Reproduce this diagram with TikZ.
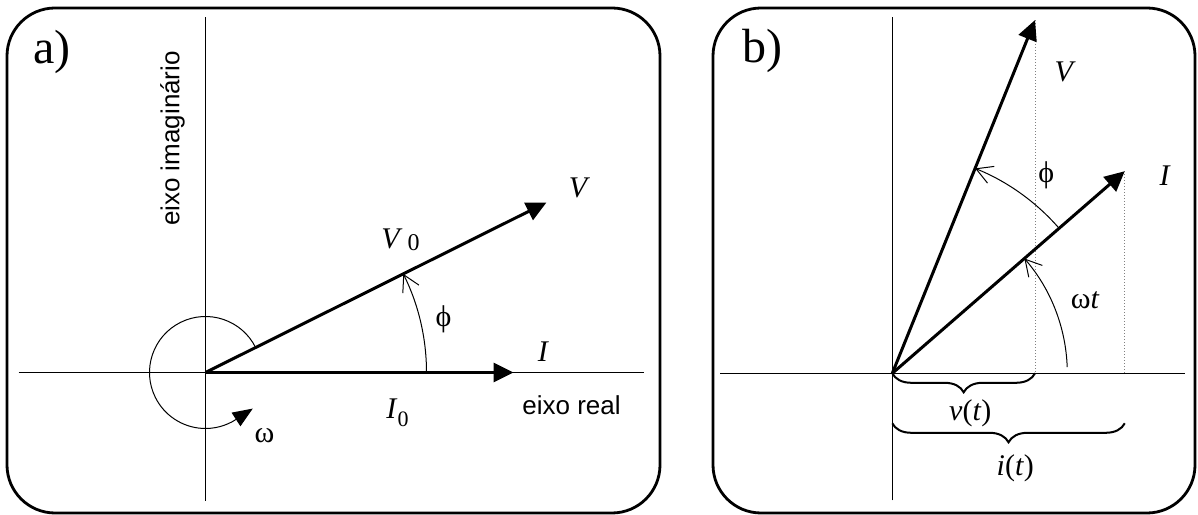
\documentclass[tikz,border=0pt]{standalone}
\usepackage{fontspec}
\setmainfont{Liberation Serif}
\newfontfamily\axisfont{Liberation Sans}
\usetikzlibrary{arrows.meta,decorations.pathreplacing,calc}

\begin{document}
\begin{tikzpicture}[
        x=0.5pt, y=0.5pt,
        every node/.style={font=\fontsize{15}{18}\selectfont, inner sep=0pt},
        panel/.style={draw, line width=1.4pt, rounded corners=24pt},
        axis/.style={draw, line width=0.5pt},
        phasor/.style={draw, line width=1.5pt, -{Triangle[length=10pt,width=9.5pt]}},
        anglearc/.style={draw, line width=0.5pt, -{Straight Barb[length=8pt,width=9pt]}},
        spin/.style={draw, line width=0.5pt, -{Triangle[length=10pt,width=8pt]}},
        proj/.style={draw=gray, line width=0.5pt, densely dotted},
        brace/.style={decorate, decoration={brace, mirror, amplitude=9.5pt}, line width=1pt},
        axislabel/.style={font=\axisfont\fontsize{13}{15}\selectfont},
        panellabel/.style={font=\fontsize{24}{28}\selectfont}
    ]
    \useasboundingbox (0,0) rectangle (1198,514);

    % Panel a
    \draw[panel] (7,1) rectangle (660,506);
    \node[panellabel] (lbla) at (52,462) {a)};
    \begin{scope}[shift={(205.5,141.5)}]
        \coordinate (Oa) at (0,0);
        \coordinate (xa1) at (-187,0);
        \coordinate (xa2) at (438,0);
        \coordinate (ya1) at (0,-128);
        \coordinate (ya2) at (0,355);
        \coordinate (Va) at (26.5:381);
        \coordinate (Ia) at (308,0);

        \draw[axis] (xa1) -- (xa2);
        \draw[axis] (ya1) -- (ya2);
        \draw[phasor] (Oa) -- (Va);
        \draw[phasor] (Oa) -- (Ia);
        \draw[anglearc] (0:221) arc[start angle=0, end angle=26.5, radius=221];
        \draw[spin] (26.5:56) arc[start angle=26.5, end angle=303, radius=56] -- ++(33:20);

        \node (Vlab) at (374,185) {\textit{V}};
        \node (V0lab) at (195,133) {\textit{V}\,\raisebox{-1pt}{\fontsize{12}{14}\selectfont 0}};
        \node (phia) at (238,53) {ϕ};
        \node (Ilab) at (338,21) {\textit{I}};
        \node (I0lab) at (192,-40) {\textit{I}\raisebox{-4pt}{\fontsize{11}{13}\selectfont 0}};
        \node[axislabel] (real) at (366,-33) {eixo real};
        \node[axislabel, rotate=90] (imag) at (-33,234) {eixo imaginário};
        \node (omega) at (59,-63) {ω};
    \end{scope}

    % Panel b
    \draw[panel] (713,1) rectangle (1195,506);
    \node[panellabel] (lblb) at (762,463) {b)};
    \begin{scope}[shift={(892.3,140.7)}]
        \coordinate (Ob) at (0,0);
        \coordinate (xb1) at (-172,0);
        \coordinate (xb2) at (293,0);
        \coordinate (yb1) at (0,-127);
        \coordinate (yb2) at (0,356);
        \coordinate (Vb) at (68:381);
        \coordinate (Ib) at (41:308);
        \coordinate (Vx) at (Vb |- Ob);
        \coordinate (Ix) at (Ib |- Ob);
        \coordinate (ib1) at (0,-50);
        \coordinate (ib2) at (Ix |- ib1);

        \draw[axis] (xb1) -- (xb2);
        \draw[axis] (yb1) -- (yb2);
        \draw[proj] (Vb) -- (Vx);
        \draw[proj] (Ib) -- (Ix);
        \draw[phasor] (Ob) -- (Vb);
        \draw[phasor] (Ob) -- (Ib);
        \draw[anglearc] (41:221) arc[start angle=41, end angle=68, radius=221];
        \draw[anglearc] (2:175) arc[start angle=2, end angle=41, radius=175];
        \draw[brace] (Ob) -- (Vx);
        \draw[brace] (ib1) -- (ib2);

        \node (Vblab) at (173,301) {\textit{V}};
        \node (Iblab) at (273,198) {\textit{I}};
        \node (phib) at (154,198) {ϕ};
        \node (wt) at (193,73) {ω\textit{t}};
        \node (vt) at (78,-40) {\textit{v}(\textit{t})};
        \node (it) at (123,-95) {\textit{i}(\textit{t})};
    \end{scope}
\end{tikzpicture}
\end{document}
